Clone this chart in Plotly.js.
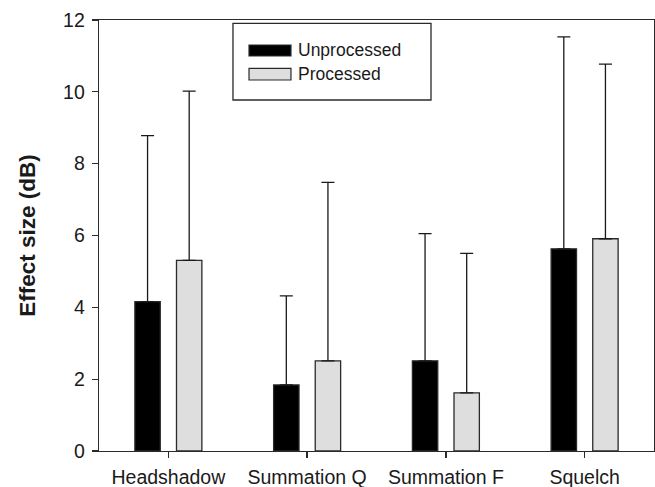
<!DOCTYPE html>
<html>
<head>
<meta charset="utf-8">
<script src="https://cdn.plot.ly/plotly-3.0.1.min.js"></script>
<style>html,body{margin:0;padding:0;background:#fff;}#chart{width:655px;height:487px;}</style>
</head>
<body>
<div id="chart"></div>
<script>
const categories = ["Headshadow", "Summation Q", "Summation F", "Squelch"];
const seriesNames = ["Unprocessed", "Processed"];
const unprocessed = [4.16, 1.84, 2.51, 5.63];
const processed = [5.31, 2.51, 1.62, 5.91];
const unprocessedErr = [4.62, 2.48, 3.54, 5.90];
const processedErr = [4.71, 4.97, 3.88, 4.86];
const yTicks = [0, 2, 4, 6, 8, 10, 12];

const colors = ["#000000", "#dedede"];
const outline = "#2a2a2a";
const font = "Liberation Sans, Arial, sans-serif";

function barTrace(name, vals, errs, color) {
  return {
    type: "bar", name: name, x: categories, y: vals,
    marker: {color: color, line: {color: outline, width: 1.3}},
    error_y: {type: "data", symmetric: false, array: errs,
              arrayminus: vals.map(() => 0), color: "#1a1a1a", thickness: 1.3, width: 6.5},
    showlegend: false
  };
}

const data = [
  barTrace(seriesNames[0], unprocessed, unprocessedErr, colors[0]),
  barTrace(seriesNames[1], processed, processedErr, colors[1])
];

// custom legend (paper coordinates)
const legBox = {x0: 0.2414, x1: 0.5982, y0: 0.8144, y1: 0.9923};
const swX = [0.2703, 0.3459];
const rows = [[0.9165, 0.9420], [0.8608, 0.8879]];
const shapes = [{type: "rect", xref: "paper", yref: "paper", x0: legBox.x0, x1: legBox.x1,
  y0: legBox.y0, y1: legBox.y1, line: {color: "#2a2a2a", width: 1.3}, fillcolor: "#fff"}];
const annotations = [];
seriesNames.forEach((n, i) => {
  shapes.push({type: "rect", xref: "paper", yref: "paper", x0: swX[0], x1: swX[1],
    y0: rows[i][0], y1: rows[i][1], line: {color: outline, width: 1.2}, fillcolor: colors[i]});
  annotations.push({xref: "paper", yref: "paper", x: 0.3544, y: (rows[i][0] + rows[i][1]) / 2,
    xanchor: "left", yanchor: "middle", text: n, showarrow: false,
    font: {family: font, size: 17.5, color: "#1a1a1a"}});
});

const layout = {
  width: 655, height: 487,
  margin: {l: 99, r: 1, t: 20, b: 36},
  paper_bgcolor: "#fff", plot_bgcolor: "#fff",
  barmode: "group", bargap: 0.4, bargroupgap: 0.39,
  font: {family: font, color: "#1a1a1a"},
  xaxis: {range: [-0.5, 3.5], showline: true, mirror: true, linecolor: "#2a2a2a", linewidth: 1.3,
    ticks: "outside", ticklen: 6, tickwidth: 1.3, tickcolor: "#2a2a2a", ticklabelstandoff: 2,
    tickfont: {size: 19.5, family: font, color: "#1a1a1a"}, showgrid: false, zeroline: false},
  yaxis: {range: [0, 12], tickvals: yTicks, ticktext: yTicks.map(String),
    showline: true, mirror: true, linecolor: "#2a2a2a", linewidth: 1.3,
    ticks: "outside", ticklen: 6, tickwidth: 1.3, tickcolor: "#2a2a2a", ticklabelstandoff: 3,
    tickfont: {size: 19.5, family: font, color: "#1a1a1a"}, showgrid: false, zeroline: false,
    title: {text: "<b>Effect size (dB)</b>", font: {size: 22.5, family: font, color: "#1a1a1a"}, standoff: 21}},
  shapes: shapes,
  annotations: annotations
};

Plotly.newPlot("chart", data, layout, {displayModeBar: false, staticPlot: true});
</script>
</body>
</html>
